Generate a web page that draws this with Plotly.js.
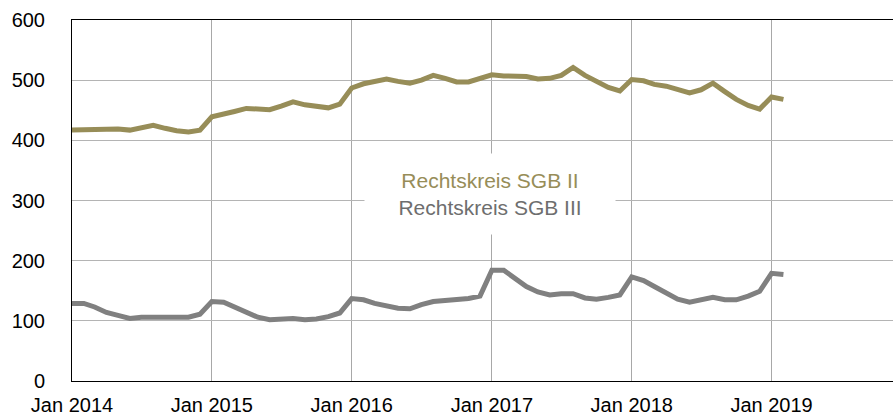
<!DOCTYPE html>
<html>
<head>
<meta charset="utf-8">
<script src="https://cdn.plot.ly/plotly-3.0.1.min.js"></script>
<style>html,body{margin:0;padding:0;background:#fff;}#chart{width:893px;height:417px;}</style>
</head>
<body>
<div id="chart"></div>
<script>
// Monthly data, Jan 2014 – Feb 2019
const startYear = 2014;
const sgb2 = [417,418,419,418,419,417,421,425,420,416,414,417,
              439,443,448,453,452,451,457,464,459,456,454,460,
              487,494,498,502,498,495,500,508,503,497,497,503,
              509,507,506,506,502,503,508,521,508,497,488,482,
              501,499,493,490,484,479,484,495,481,468,458,452,
              472,468];
const sgb3 = [129,129,123,114,109,104,106,106,104,104,106,111,
              132,131,123,113,106,102,104,104,102,103,107,113,
              137,135,129,124,121,120,127,132,133,135,137,141,
              184,184,171,157,148,143,145,145,138,136,139,143,
              173,167,157,146,136,131,134,139,135,135,141,149,
              179,177];
const seriesNames = ['Rechtskreis SGB II','Rechtskreis SGB III'];
const tickYears = [2014,2015,2016,2017,2018,2019];
const tickLabels = tickYears.map(y => 'Jan ' + y);

const dates = sgb2.map((_, i) => {
  const y = startYear + Math.floor(i / 12);
  const m = (i % 12) + 1;
  return y + '-' + String(m).padStart(2, '0') + '-01';
});

const olive = 'rgb(151,141,88)';
const gray = 'rgb(128,128,128)';

const traces = [
  {x: dates, y: sgb2, name: seriesNames[0], type: 'scatter', mode: 'lines',
   line: {color: olive, width: 5}},
  {x: dates, y: sgb3, name: seriesNames[1], type: 'scatter', mode: 'lines',
   line: {color: gray, width: 5}}
];

const layout = {
  width: 893, height: 417,
  margin: {l: 72, r: 0, t: 20, b: 36},
  paper_bgcolor: '#fff', plot_bgcolor: '#fff',
  showlegend: false,
  font: {family: 'Liberation Sans, Arial, sans-serif', color: '#000', size: 20},
  xaxis: {
    type: 'date',
    range: ['2014-01-01', '2019-11-14'],
    tickvals: tickYears.map(y => y + '-01-01'),
    ticktext: tickLabels,
    showgrid: true, gridcolor: '#a8a8a8', gridwidth: 1,
    showline: true, linecolor: '#000', linewidth: 1, mirror: true,
    ticks: '', ticklabelstandoff: 6,
    zeroline: false,
    tickfont: {size: 20}
  },
  yaxis: {
    range: [0, 600],
    tickvals: [0,100,200,300,400,500,600],
    showgrid: true, gridcolor: '#b4b4b4', gridwidth: 1,
    showline: true, linecolor: '#000', linewidth: 1,
    ticks: '', ticklabelstandoff: 22,
    zeroline: false,
    tickfont: {size: 20}
  },
  annotations: [{
    xref: 'x', yref: 'y',
    x: '2016-12-28', y: 311,
    text: '<span style="color:' + olive + '">' + seriesNames[0] + '</span><br><span style="color:#6e6e6e">' + seriesNames[1] + '</span>',
    showarrow: false,
    bgcolor: '#fff',
    width: 248, height: 78,
    align: 'center', valign: 'middle',
    font: {size: 21, family: 'Liberation Sans, Arial, sans-serif'}
  }]
};

Plotly.newPlot('chart', traces, layout, {displayModeBar: false, staticPlot: true});
</script>
</body>
</html>
